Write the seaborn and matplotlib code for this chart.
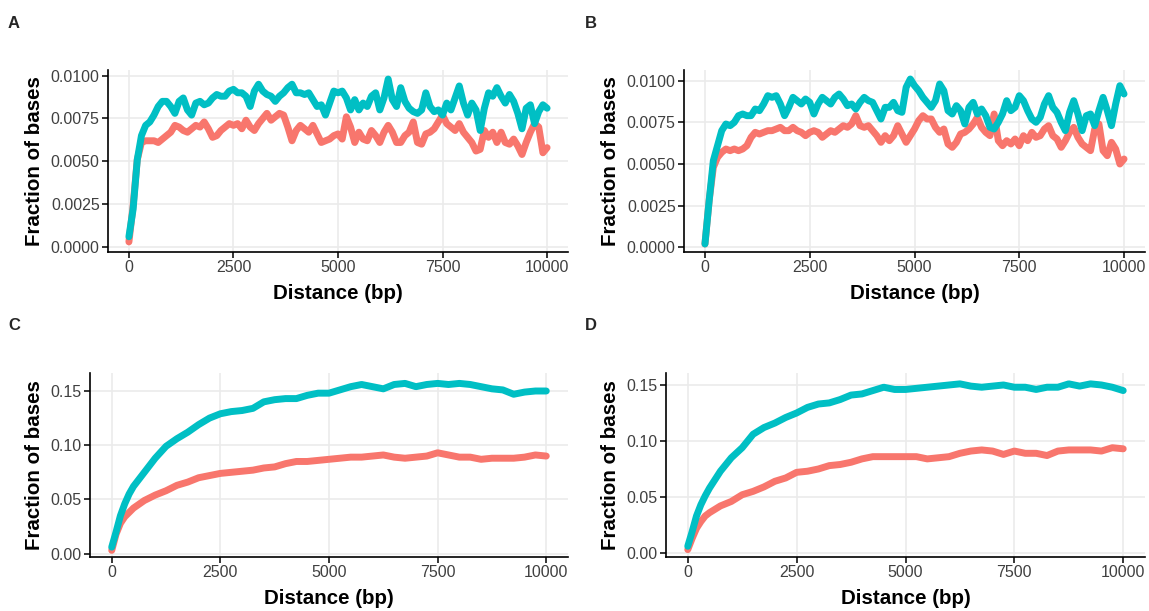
import matplotlib
matplotlib.use("Agg")
import matplotlib.pyplot as plt
import pandas as pd
import seaborn as sns

# Distance grids (bp)
DIST_FINE = list(range(0, 10001, 100))
DIST_COARSE = [0, 100, 200, 300, 400, 500] + list(range(750, 10001, 250))

GROUPS = ["Set 1", "Set 2"]
COLORS = {"Set 1": "#F8766D", "Set 2": "#00BFC4"}

# Panel A
A_SET1 = [
    0.0003, 0.0024, 0.0051, 0.0061, 0.0062, 0.0062, 0.0062, 0.0061, 0.0063, 0.0065,
    0.0067, 0.0071, 0.0070, 0.0068, 0.0067, 0.0069, 0.0071, 0.0070, 0.0073, 0.0069,
    0.0064, 0.0065, 0.0068, 0.0070, 0.0072, 0.0071, 0.0072, 0.0069, 0.0074, 0.0070,
    0.0068, 0.0072, 0.0075, 0.0078, 0.0074, 0.0076, 0.0078, 0.0077, 0.0070, 0.0062,
    0.0068, 0.0071, 0.0069, 0.0067, 0.0071, 0.0066, 0.0061, 0.0062, 0.0063, 0.0065,
    0.0066, 0.0063, 0.0076, 0.0070, 0.0061, 0.0067, 0.0063, 0.0062, 0.0068, 0.0065,
    0.0061, 0.0067, 0.0071, 0.0067, 0.0061, 0.0061, 0.0065, 0.0067, 0.0073, 0.0061,
    0.0060, 0.0066, 0.0067, 0.0069, 0.0073, 0.0077, 0.0072, 0.0070, 0.0068, 0.0072,
    0.0067, 0.0064, 0.0061, 0.0056, 0.0057, 0.0068, 0.0064, 0.0067, 0.0061, 0.0067,
    0.0061, 0.0060, 0.0063, 0.0059, 0.0054, 0.0061, 0.0067, 0.0072, 0.0070, 0.0055,
    0.0058,
]
A_SET2 = [
    0.0006, 0.0022, 0.0051, 0.0065, 0.0071, 0.0073, 0.0077, 0.0082, 0.0085, 0.0085,
    0.0082, 0.0078, 0.0085, 0.0087, 0.0080, 0.0077, 0.0084, 0.0085, 0.0083, 0.0084,
    0.0087, 0.0089, 0.0088, 0.0088, 0.0091, 0.0092, 0.0090, 0.0090, 0.0088, 0.0082,
    0.0091, 0.0095, 0.0091, 0.0089, 0.0088, 0.0085, 0.0088, 0.0090, 0.0093, 0.0095,
    0.0090, 0.0090, 0.0089, 0.0090, 0.0086, 0.0082, 0.0083, 0.0077, 0.0084, 0.0091,
    0.0090, 0.0091, 0.0087, 0.0080, 0.0086, 0.0080, 0.0084, 0.0082, 0.0088, 0.0090,
    0.0080, 0.0087, 0.0098, 0.0086, 0.0082, 0.0093, 0.0085, 0.0081, 0.0079, 0.0078,
    0.0080, 0.0090, 0.0082, 0.0079, 0.0080, 0.0077, 0.0084, 0.0080, 0.0087, 0.0094,
    0.0084, 0.0077, 0.0084, 0.0080, 0.0068, 0.0081, 0.0090, 0.0088, 0.0093, 0.0088,
    0.0084, 0.0089, 0.0085, 0.0078, 0.0069, 0.0081, 0.0083, 0.0072, 0.0079, 0.0083,
    0.0081,
]

# Panel B
B_SET1 = [
    0.0002, 0.0028, 0.0048, 0.0054, 0.0057, 0.0059, 0.0058, 0.0059, 0.0058, 0.0059,
    0.0061, 0.0066, 0.0069, 0.0068, 0.0069, 0.0070, 0.0070, 0.0071, 0.0072, 0.0070,
    0.0070, 0.0072, 0.0070, 0.0069, 0.0067, 0.0069, 0.0070, 0.0069, 0.0066, 0.0068,
    0.0070, 0.0069, 0.0071, 0.0073, 0.0072, 0.0074, 0.0079, 0.0073, 0.0072, 0.0073,
    0.0070, 0.0067, 0.0063, 0.0067, 0.0064, 0.0067, 0.0073, 0.0068, 0.0063, 0.0067,
    0.0071, 0.0076, 0.0079, 0.0077, 0.0077, 0.0072, 0.0069, 0.0071, 0.0062, 0.0060,
    0.0063, 0.0068, 0.0069, 0.0071, 0.0074, 0.0078, 0.0072, 0.0069, 0.0067, 0.0080,
    0.0064, 0.0061, 0.0064, 0.0062, 0.0065, 0.0061, 0.0067, 0.0064, 0.0069, 0.0066,
    0.0067, 0.0071, 0.0073, 0.0067, 0.0065, 0.0060, 0.0064, 0.0069, 0.0072, 0.0066,
    0.0062, 0.0060, 0.0058, 0.0071, 0.0074, 0.0058, 0.0055, 0.0063, 0.0059, 0.0050,
    0.0053,
]
B_SET2 = [
    0.0002, 0.0028, 0.0052, 0.0061, 0.0070, 0.0074, 0.0073, 0.0075, 0.0079, 0.0080,
    0.0079, 0.0079, 0.0083, 0.0082, 0.0086, 0.0091, 0.0090, 0.0091, 0.0086, 0.0079,
    0.0084, 0.0090, 0.0088, 0.0086, 0.0089, 0.0087, 0.0080, 0.0086, 0.0090, 0.0088,
    0.0086, 0.0090, 0.0092, 0.0089, 0.0085, 0.0086, 0.0083, 0.0087, 0.0090, 0.0088,
    0.0087, 0.0082, 0.0077, 0.0084, 0.0084, 0.0087, 0.0082, 0.0081, 0.0096, 0.0101,
    0.0097, 0.0094, 0.0090, 0.0087, 0.0084, 0.0088, 0.0098, 0.0094, 0.0082, 0.0080,
    0.0085, 0.0082, 0.0074, 0.0084, 0.0087, 0.0080, 0.0083, 0.0079, 0.0072, 0.0071,
    0.0075, 0.0080, 0.0088, 0.0082, 0.0084, 0.0091, 0.0088, 0.0082, 0.0077, 0.0075,
    0.0078, 0.0086, 0.0091, 0.0084, 0.0081, 0.0075, 0.0070, 0.0081, 0.0088, 0.0080,
    0.0070, 0.0079, 0.0080, 0.0073, 0.0082, 0.0090, 0.0082, 0.0073, 0.0086, 0.0097,
    0.0092,
]

# Panel C
C_SET1 = [
    0.003, 0.018, 0.028, 0.034, 0.038, 0.042,
    0.049, 0.054, 0.058, 0.063, 0.066, 0.070, 0.072, 0.074, 0.075, 0.076,
    0.077, 0.079, 0.080, 0.083, 0.085, 0.085, 0.086, 0.087, 0.088, 0.089,
    0.089, 0.090, 0.091, 0.089, 0.088, 0.089, 0.090, 0.093, 0.091, 0.089,
    0.089, 0.087, 0.088, 0.088, 0.088, 0.089, 0.091, 0.090,
]
C_SET2 = [
    0.006, 0.020, 0.035, 0.046, 0.055, 0.062,
    0.075, 0.088, 0.099, 0.106, 0.112, 0.119, 0.125, 0.129, 0.131, 0.132,
    0.134, 0.140, 0.142, 0.143, 0.143, 0.146, 0.148, 0.148, 0.151, 0.154,
    0.156, 0.154, 0.152, 0.156, 0.157, 0.154, 0.156, 0.157, 0.156, 0.157,
    0.156, 0.154, 0.152, 0.151, 0.147, 0.149, 0.150, 0.150,
]

# Panel D
D_SET1 = [
    0.003, 0.013, 0.022, 0.028, 0.033, 0.036,
    0.042, 0.046, 0.052, 0.055, 0.059, 0.064, 0.067, 0.072, 0.073, 0.075,
    0.078, 0.079, 0.081, 0.084, 0.086, 0.086, 0.086, 0.086, 0.086, 0.084,
    0.085, 0.086, 0.089, 0.091, 0.092, 0.091, 0.088, 0.091, 0.089, 0.089,
    0.087, 0.091, 0.092, 0.092, 0.092, 0.091, 0.094, 0.093,
]
D_SET2 = [
    0.006, 0.019, 0.033, 0.043, 0.051, 0.058,
    0.073, 0.085, 0.094, 0.106, 0.112, 0.116, 0.121, 0.125, 0.130, 0.133,
    0.134, 0.137, 0.141, 0.142, 0.145, 0.148, 0.146, 0.146, 0.147, 0.148,
    0.149, 0.150, 0.151, 0.149, 0.148, 0.149, 0.150, 0.148, 0.148, 0.146,
    0.148, 0.148, 0.151, 0.149, 0.151, 0.150, 0.148, 0.145,
]

X_TICKS = [0, 2500, 5000, 7500, 10000]
Y_TICKS_SMALL = [0.0, 0.0025, 0.005, 0.0075, 0.01]
Y_TICKS_LARGE = [0.0, 0.05, 0.10, 0.15]

sns.set_style("white")
plt.rcParams["font.family"] = ["Liberation Sans", "DejaVu Sans"]

W, H = 1149, 611
fig = plt.figure(figsize=(W / 100, H / 100), dpi=100)


def box(left, right, top, bottom):
    return [left / W, 1 - bottom / H, (right - left) / W, (bottom - top) / H]


def long_frame(dist, set1, set2):
    return pd.DataFrame({
        "distance": list(dist) * 2,
        "fraction": list(set1) + list(set2),
        "group": [GROUPS[0]] * len(set1) + [GROUPS[1]] * len(set2),
    })


panels = [
    ("A", DIST_FINE, A_SET1, A_SET2, box(108, 568, 70, 252), (-0.00029, 0.01033),
     Y_TICKS_SMALL, "{:.4f}", (8, 24)),
    ("B", DIST_FINE, B_SET1, B_SET2, box(684, 1145, 70, 252), (-0.00028, 0.01064),
     Y_TICKS_SMALL, "{:.4f}", (585, 24)),
    ("C", DIST_COARSE, C_SET1, C_SET2, box(90, 568, 373, 557), (-0.0031, 0.1666),
     Y_TICKS_LARGE, "{:.2f}", (8, 326)),
    ("D", DIST_COARSE, D_SET1, D_SET2, box(666, 1145, 373, 557), (-0.0036, 0.1607),
     Y_TICKS_LARGE, "{:.2f}", (585, 326)),
]

for letter, dist, s1, s2, rect, ylim, yticks, yfmt, lpos in panels:
    ax = fig.add_axes(rect)
    df = long_frame(dist, s1, s2)
    sns.lineplot(data=df, x="distance", y="fraction", hue="group",
                 hue_order=GROUPS, palette=COLORS, linewidth=5,
                 legend=False, ax=ax, solid_capstyle="round",
                 solid_joinstyle="round")
    ax.set_xlim(-500, 10500)
    ax.set_ylim(*ylim)
    ax.set_xticks(X_TICKS)
    ax.set_xticklabels([str(t) for t in X_TICKS])
    ax.set_yticks(yticks)
    ax.set_yticklabels([yfmt.format(t) for t in yticks])
    ax.grid(True, color="#EBEBEB", linewidth=1.2)
    ax.set_axisbelow(True)
    for side in ("top", "right"):
        ax.spines[side].set_visible(False)
    for side in ("left", "bottom"):
        ax.spines[side].set_color("black")
        ax.spines[side].set_linewidth(1.2)
    ax.tick_params(axis="both", direction="out", length=4, width=1.1,
                   color="black", labelcolor="#404040", labelsize=11.5, pad=2,
                   bottom=True, left=True)
    ax.set_xlabel("Distance (bp)", fontsize=14.8, fontweight="bold",
                  color="black", labelpad=6)
    ax.set_ylabel("Fraction of bases", fontsize=14.8, fontweight="bold",
                  color="black", labelpad=5)
    fig.text(lpos[0] / W, 1 - lpos[1] / H, letter, fontsize=12,
             fontweight="bold", va="center", ha="left")

fig.savefig("out.png", dpi=100)
